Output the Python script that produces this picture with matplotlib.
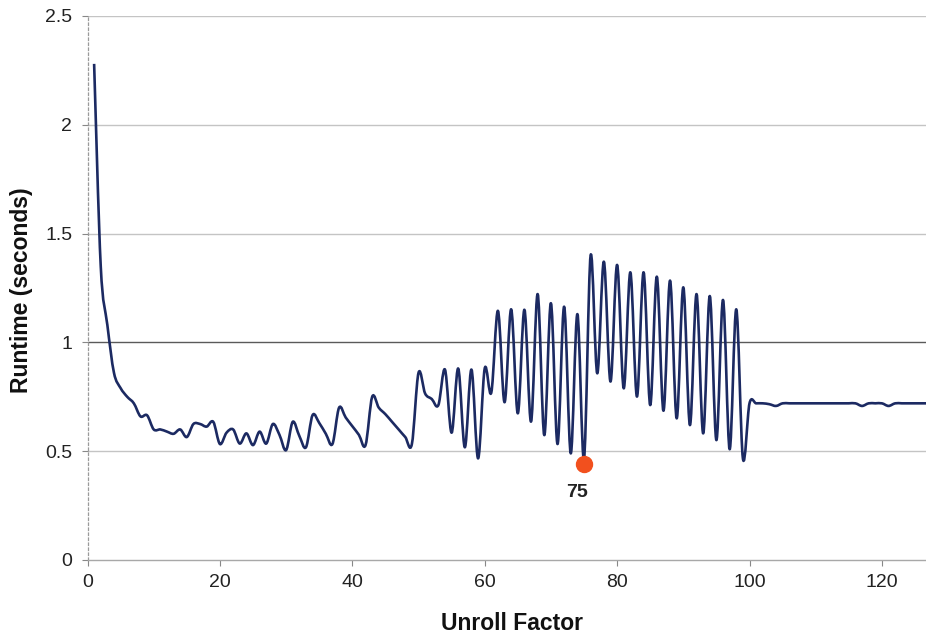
import numpy as np
import matplotlib
matplotlib.use("Agg")
import matplotlib.pyplot as plt
from matplotlib.path import Path
from matplotlib.patches import PathPatch

plt.rcParams['font.family'] = ['Liberation Sans', 'DejaVu Sans']

# runtime (seconds) per unroll factor 1..128
unroll = np.arange(1, 129)
runtime = [
    2.28, 1.35, 1.08, 0.86, 0.79, 0.75, 0.72, 0.66, 0.665, 0.60,   # 1-10
    0.60, 0.59, 0.58, 0.60, 0.565, 0.625, 0.625, 0.613, 0.635, 0.533,  # 11-20
    0.585, 0.60, 0.535, 0.582, 0.528, 0.59, 0.535, 0.625, 0.575, 0.505,  # 21-30
    0.635, 0.57, 0.518, 0.666, 0.63, 0.58, 0.533, 0.70, 0.655, 0.615,  # 31-40
    0.575, 0.528, 0.75, 0.70, 0.67, 0.635, 0.60, 0.565, 0.533, 0.86,  # 41-50
    0.765, 0.74, 0.712, 0.875, 0.585, 0.88, 0.518, 0.875, 0.467, 0.88,  # 51-60
    0.77, 1.145, 0.725, 1.152, 0.674, 1.15, 0.636, 1.222, 0.574, 1.18,  # 61-70
    0.533, 1.164, 0.49, 1.13, 0.465, 1.40, 0.858, 1.371, 0.82, 1.356,  # 71-80
    0.789, 1.322, 0.751, 1.322, 0.712, 1.302, 0.686, 1.284, 0.651, 1.253,  # 81-90
    0.62, 1.222, 0.582, 1.213, 0.551, 1.195, 0.509, 1.152, 0.467, 0.72,  # 91-100
    0.72, 0.72, 0.716, 0.708, 0.72, 0.72, 0.72, 0.72, 0.72, 0.72,  # 101-110
    0.72, 0.72, 0.72, 0.72, 0.72, 0.72, 0.708, 0.72, 0.72, 0.72,  # 111-120
    0.708, 0.72, 0.72, 0.72, 0.72, 0.72, 0.72, 0.72,  # 121-128
]
best_x, best_y, best_label = 75, 0.44, '75'

x_ticks = [0, 20, 40, 60, 80, 100, 120]
y_ticks = [0, 0.5, 1, 1.5, 2, 2.5]
y_labels = ['0', '0.5', '1', '1.5', '2', '2.5']

fig = plt.figure(figsize=(9.26, 6.37), dpi=100)
ax = fig.add_axes([87.5/926, 77/637, 838.5/926, 544/637])
ax.set_xlim(0, 126.66)
ax.set_ylim(0, 2.5)

# grid lines
for yv in y_ticks[1:]:
    if yv == 1:
        ax.axhline(yv, color='#5a5a5a', lw=1.0, zorder=1)
    else:
        ax.axhline(yv, color='#c4c4c4', lw=1.0, zorder=1)

# smoothed line (Excel style) as bezier segments through the data points
px = np.asarray(unroll, float); py = np.asarray(runtime, float)
verts = [(px[0], py[0])]; codes = [Path.MOVETO]
n = len(px)
for i in range(n - 1):
    p0 = i - 1 if i > 0 else i
    p3 = i + 2 if i + 2 < n else i + 1
    c1 = (px[i] + (px[i+1] - px[p0]) / 6, py[i] + (py[i+1] - py[p0]) / 6)
    c2 = (px[i+1] - (px[p3] - px[i]) / 6, py[i+1] - (py[p3] - py[i]) / 6)
    verts += [c1, c2, (px[i+1], py[i+1])]
    codes += [Path.CURVE4] * 3
ax.add_patch(PathPatch(Path(verts, codes), fill=False, edgecolor='#1c2a62',
                       lw=1.9, zorder=3, joinstyle='round'))

ax.plot(best_x, best_y, 'o', color='#f2501e', ms=11.5, zorder=4)
ax.annotate(best_label, (best_x, best_y), xytext=(-5, -20), textcoords='offset points',
            ha='center', va='center', fontsize=14, fontweight='bold', color='#222222')

ax.set_xticks(x_ticks)
ax.set_yticks(y_ticks)
ax.set_yticklabels(y_labels)
ax.tick_params(axis='both', labelsize=14, colors='#222222', length=4, width=0.8)
ax.tick_params(axis='y', pad=7, color='#888888')
ax.tick_params(axis='x', pad=6, color='#888888')

for s in ['top', 'right']:
    ax.spines[s].set_visible(False)
ax.spines['left'].set_color('#9a9a9a')
ax.spines['left'].set_linestyle((0, (2, 2)))
ax.spines['left'].set_linewidth(0.9)
ax.spines['bottom'].set_color('#a8a8a8')
ax.spines['bottom'].set_linewidth(1.0)

fig.text(22/926, 1 - 290/637, 'Runtime (seconds)', rotation=90, ha='center', va='center',
         fontsize=16.5, fontweight='bold', color='#111111')
fig.text(512/926, 1 - 630/637, 'Unroll Factor', ha='center', va='baseline',
         fontsize=16.5, fontweight='bold', color='#111111')

plt.savefig('out.png', dpi=100)
